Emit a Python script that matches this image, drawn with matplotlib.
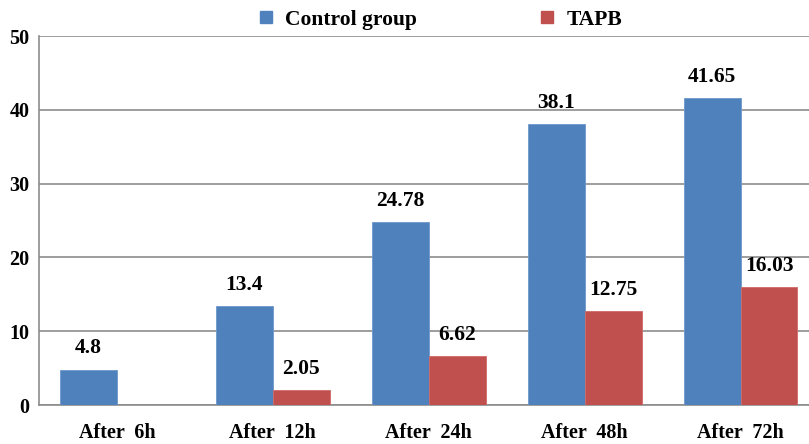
import matplotlib.pyplot as plt
import numpy as np
from matplotlib.lines import Line2D

categories = ["After  6h", "After  12h", "After  24h", "After  48h", "After  72h"]
control = [4.8, 13.4, 24.78, 38.1, 41.65]
tapb = [0, 2.05, 6.62, 12.75, 16.03]
yticks = [0, 10, 20, 30, 40, 50]

BLUE = "#4F81BD"
RED = "#C0504D"
GRID = "#8C8C8C"

plt.rcParams["font.family"] = ["Liberation Serif", "DejaVu Serif"]
plt.rcParams["font.weight"] = "bold"

fig = plt.figure(figsize=(8.09, 4.44), dpi=100)
ax = fig.add_axes([0.0482, 0.0878, 0.952, 0.831])

x = np.arange(len(categories))
w = 0.365
b1 = ax.bar(x - w / 2, control, w, color=BLUE, edgecolor="#6C97CC", linewidth=0.6, zorder=3)
b2 = ax.bar(x + w / 2, tapb, w, color=RED, edgecolor="#D06A67", linewidth=0.6, zorder=3)

def label_bars(bars, values):
    for rect, v in zip(bars, values):
        if v == 0:
            continue
        ax.annotate(f"{v:g}", (rect.get_x() + rect.get_width() / 2, v),
                    xytext=(0, 8), textcoords="offset points",
                    ha="center", va="bottom", fontsize=15.5, fontweight="bold")

label_bars(b1, control)
label_bars(b2, tapb)

ax.set_ylim(0, 50)
ax.set_xlim(-0.5, 4.44)
ax.set_yticks(yticks)
ax.set_xticks(x)
ax.set_xticklabels(categories)
ax.tick_params(axis="both", length=0, labelsize=14.5)
ax.tick_params(axis="y", pad=7)
ax.tick_params(axis="x", pad=13)
ax.yaxis.grid(True, color=GRID, linewidth=1.2, zorder=0)
ax.set_axisbelow(True)
for side in ("top", "right"):
    ax.spines[side].set_visible(False)
for side in ("left", "bottom"):
    ax.spines[side].set_color(GRID)
    ax.spines[side].set_linewidth(1.2)

handles = [
    Line2D([], [], marker="s", linestyle="none", markersize=8, color=BLUE),
    Line2D([], [], marker="s", linestyle="none", markersize=8, color=RED),
]
fig.legend(handles, ["Control group", "TAPB"], loc="center", ncol=2,
           bbox_to_anchor=(0.542, 0.955), frameon=False, fontsize=15.5,
           columnspacing=5.5, handletextpad=0.42, handlelength=1.0)

fig.savefig("out.png", dpi=100)
